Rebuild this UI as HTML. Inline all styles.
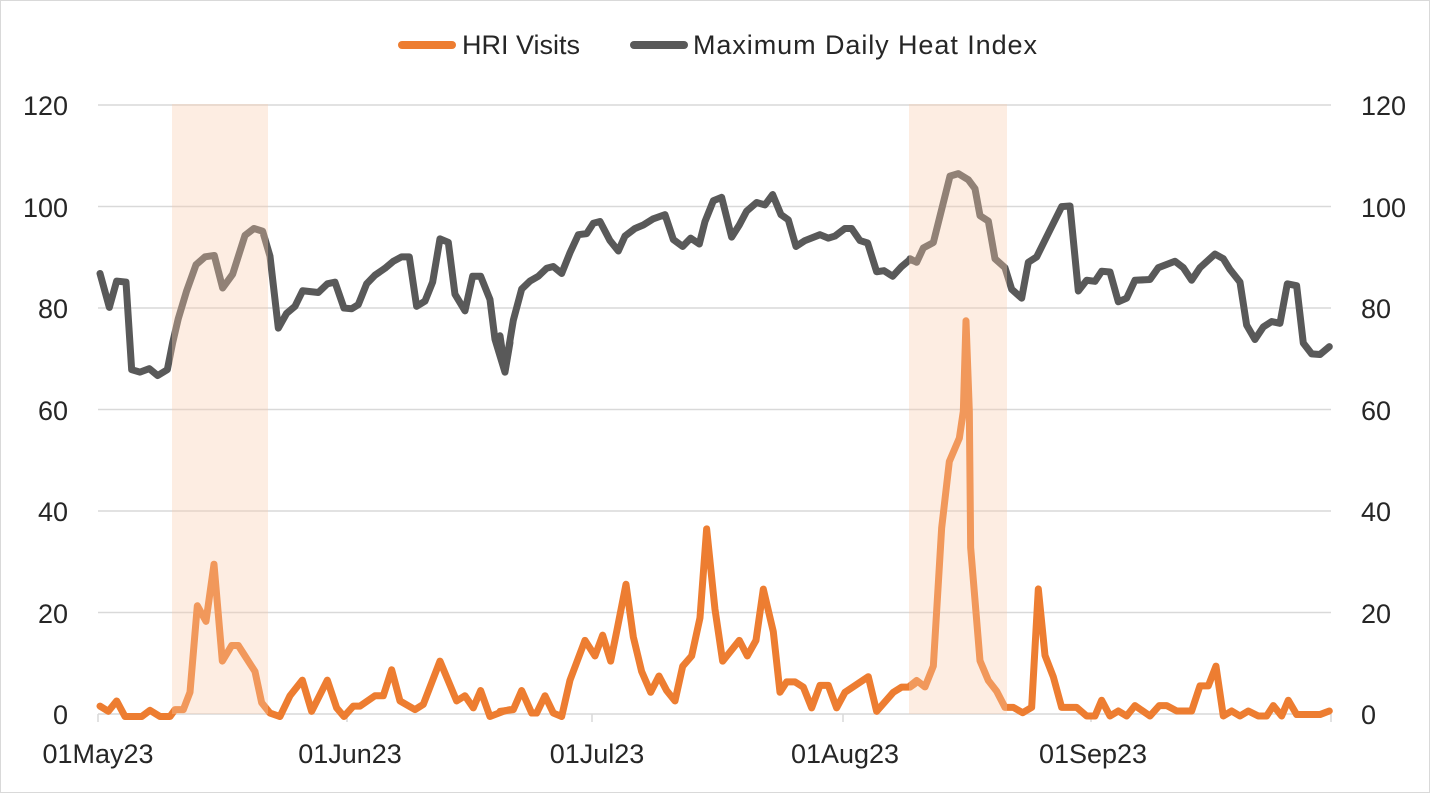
<!DOCTYPE html>
<html><head><meta charset="utf-8"><style>
html,body{margin:0;padding:0;background:#fff}
svg{display:block}
text{font-family:"Liberation Sans",sans-serif;font-size:27px;fill:#262626}
</style></head><body>
<svg width="1430" height="793" viewBox="0 0 1430 793">
<rect x="0.5" y="0.5" width="1429" height="792" fill="#fff" stroke="#d9d9d9"/>
<g stroke="#d9d9d9" stroke-width="1.5">
<line x1="98" y1="105" x2="1331" y2="105"/>
<line x1="98" y1="206.5" x2="1331" y2="206.5"/>
<line x1="98" y1="308" x2="1331" y2="308"/>
<line x1="98" y1="409.5" x2="1331" y2="409.5"/>
<line x1="98" y1="511" x2="1331" y2="511"/>
<line x1="98" y1="612.5" x2="1331" y2="612.5"/>
<line x1="98" y1="714" x2="1331" y2="714"/>
<line x1="98" y1="714" x2="98" y2="722"/>
<line x1="347" y1="714" x2="347" y2="722"/>
<line x1="592" y1="714" x2="592" y2="722"/>
<line x1="843" y1="714" x2="843" y2="722"/>
<line x1="1091" y1="714" x2="1091" y2="722"/>
<line x1="1331" y1="714" x2="1331" y2="722"/>
</g>
<g text-anchor="end">
<text x="68" y="115">120</text><text x="68" y="217">100</text><text x="68" y="318">80</text>
<text x="68" y="420">60</text><text x="68" y="521">40</text><text x="68" y="623">20</text><text x="68" y="724">0</text>
</g>
<g>
<text x="1361" y="115">120</text><text x="1361" y="217">100</text><text x="1361" y="318">80</text>
<text x="1361" y="420">60</text><text x="1361" y="521">40</text><text x="1361" y="623">20</text><text x="1361" y="724">0</text>
</g>
<g text-anchor="middle">
<text x="98" y="763">01May23</text><text x="350" y="763">01Jun23</text><text x="597" y="763">01Jul23</text>
<text x="845" y="763">01Aug23</text><text x="1093" y="763">01Sep23</text>
</g>
<line x1="402" y1="45" x2="452" y2="45" stroke="#ed7d31" stroke-width="8" stroke-linecap="round"/>
<text x="462" y="54" textLength="118">HRI Visits</text>
<line x1="634" y1="45" x2="684" y2="45" stroke="#595959" stroke-width="8" stroke-linecap="round"/>
<text x="693" y="54" textLength="344">Maximum Daily Heat Index</text>

<g fill="none" stroke="#595959" stroke-width="7" stroke-linejoin="round" stroke-linecap="round">
<polyline vector-effect="non-scaling-stroke" transform="translate(90,180) scale(0.3333,0.34614)" points="30,270 58,368 80,292 108,295 125,548 150,555 178,545 203,565 232,548 248,470 265,400 290,320 318,245 345,222 373,218 398,312 428,272 465,160 492,140 518,148 540,220 565,428 590,385 615,365 638,320 685,325 712,300 735,295 762,370 785,372 805,360 830,300 855,275 885,255 910,235 935,222 958,222 980,365 1005,350 1028,295 1050,170 1075,180 1095,330 1125,378 1148,278 1172,278 1200,345 1215,460 1245,555 1260,470"/>
<polyline vector-effect="non-scaling-stroke" transform="translate(500,180) scale(0.3333,0.34614)" points="0,450 15,550 40,405 65,315 90,292 115,278 140,255 160,250 185,270 210,210 235,158 260,155 280,125 300,120 330,175 355,205 375,162 405,140 430,130 460,112 495,100 520,172 548,192 572,168 598,185 615,120 640,60 665,50 695,165 718,130 740,90 770,65 795,72 818,42 843,100 865,115 888,192 915,175 960,158 985,168 1005,162 1035,140 1055,140 1080,175 1103,182 1130,265 1152,262 1178,278 1205,250 1230,230 1245,235"/>
<polyline vector-effect="non-scaling-stroke" transform="translate(910,160) scale(0.3333,0.35894)" points="0,275 20,285 40,245 70,230 120,45 145,38 175,55 195,80 210,155 235,170 255,275 285,300 305,360 335,385 355,285 380,270 420,195 455,130 480,128 505,365 530,335 555,338 575,310 600,312 625,395 650,385 675,335 720,333 745,300 795,282 820,300 845,335 870,300 915,262 940,275 960,305 990,340 1010,460 1035,500 1060,465 1085,450 1110,455 1132,345 1160,350 1180,510 1205,540 1230,542 1258,520"/>
</g>
<g fill="none" stroke="#ed7d31" stroke-width="7" stroke-linejoin="round" stroke-linecap="round">
<polyline vector-effect="non-scaling-stroke" transform="translate(90,180) scale(0.3333,0.34614)" points="30,1520 55,1535 80,1505 105,1550 155,1550 180,1532 210,1550 240,1550 255,1530 280,1530 300,1480 322,1230 348,1275 372,1110 397,1390 425,1345 445,1345 465,1375 495,1420 515,1510 540,1540 570,1550 600,1490 637,1445 665,1535 712,1445 740,1525 762,1550 790,1520 810,1520 855,1490 880,1490 905,1415 930,1505 975,1530 1000,1515 1050,1390 1100,1505 1125,1490 1150,1525 1172,1475 1200,1550 1240,1535 1260,1530"/>
<polyline vector-effect="non-scaling-stroke" transform="translate(500,180) scale(0.3333,0.34614)" points="0,1535 40,1530 65,1475 95,1540 110,1540 135,1490 160,1540 185,1550 210,1445 255,1330 285,1375 308,1315 332,1390 350,1305 378,1168 400,1320 425,1420 452,1480 477,1433 500,1475 525,1505 548,1405 575,1375 600,1265 620,1008 645,1240 668,1390 718,1330 742,1375 768,1330 790,1182 820,1305 840,1480 860,1450 885,1450 910,1465 935,1525 960,1460 985,1460 1010,1525 1035,1480 1105,1435 1130,1535 1180,1480 1205,1465 1230,1465 1245,1455"/>
<polyline vector-effect="non-scaling-stroke" transform="translate(910,160) scale(0.3333,0.35894)" points="0,1465 20,1450 45,1468 70,1410 95,1025 118,840 148,775 160,700 168,448 178,700 182,1080 210,1395 235,1450 260,1480 285,1525 310,1525 338,1540 365,1525 385,1195 405,1380 430,1440 455,1525 500,1525 530,1549 555,1549 575,1505 600,1549 625,1535 650,1549 675,1520 720,1549 748,1520 770,1520 800,1535 845,1535 870,1465 895,1465 918,1410 940,1549 965,1535 990,1549 1015,1535 1045,1549 1070,1549 1090,1520 1115,1549 1135,1505 1160,1545 1230,1545 1258,1535"/>
</g>
<rect x="172" y="104" width="96" height="610" fill="#f8cbad" opacity="0.35"/>
<rect x="909" y="104" width="98" height="610" fill="#f8cbad" opacity="0.35"/>
</svg>
</body></html>
